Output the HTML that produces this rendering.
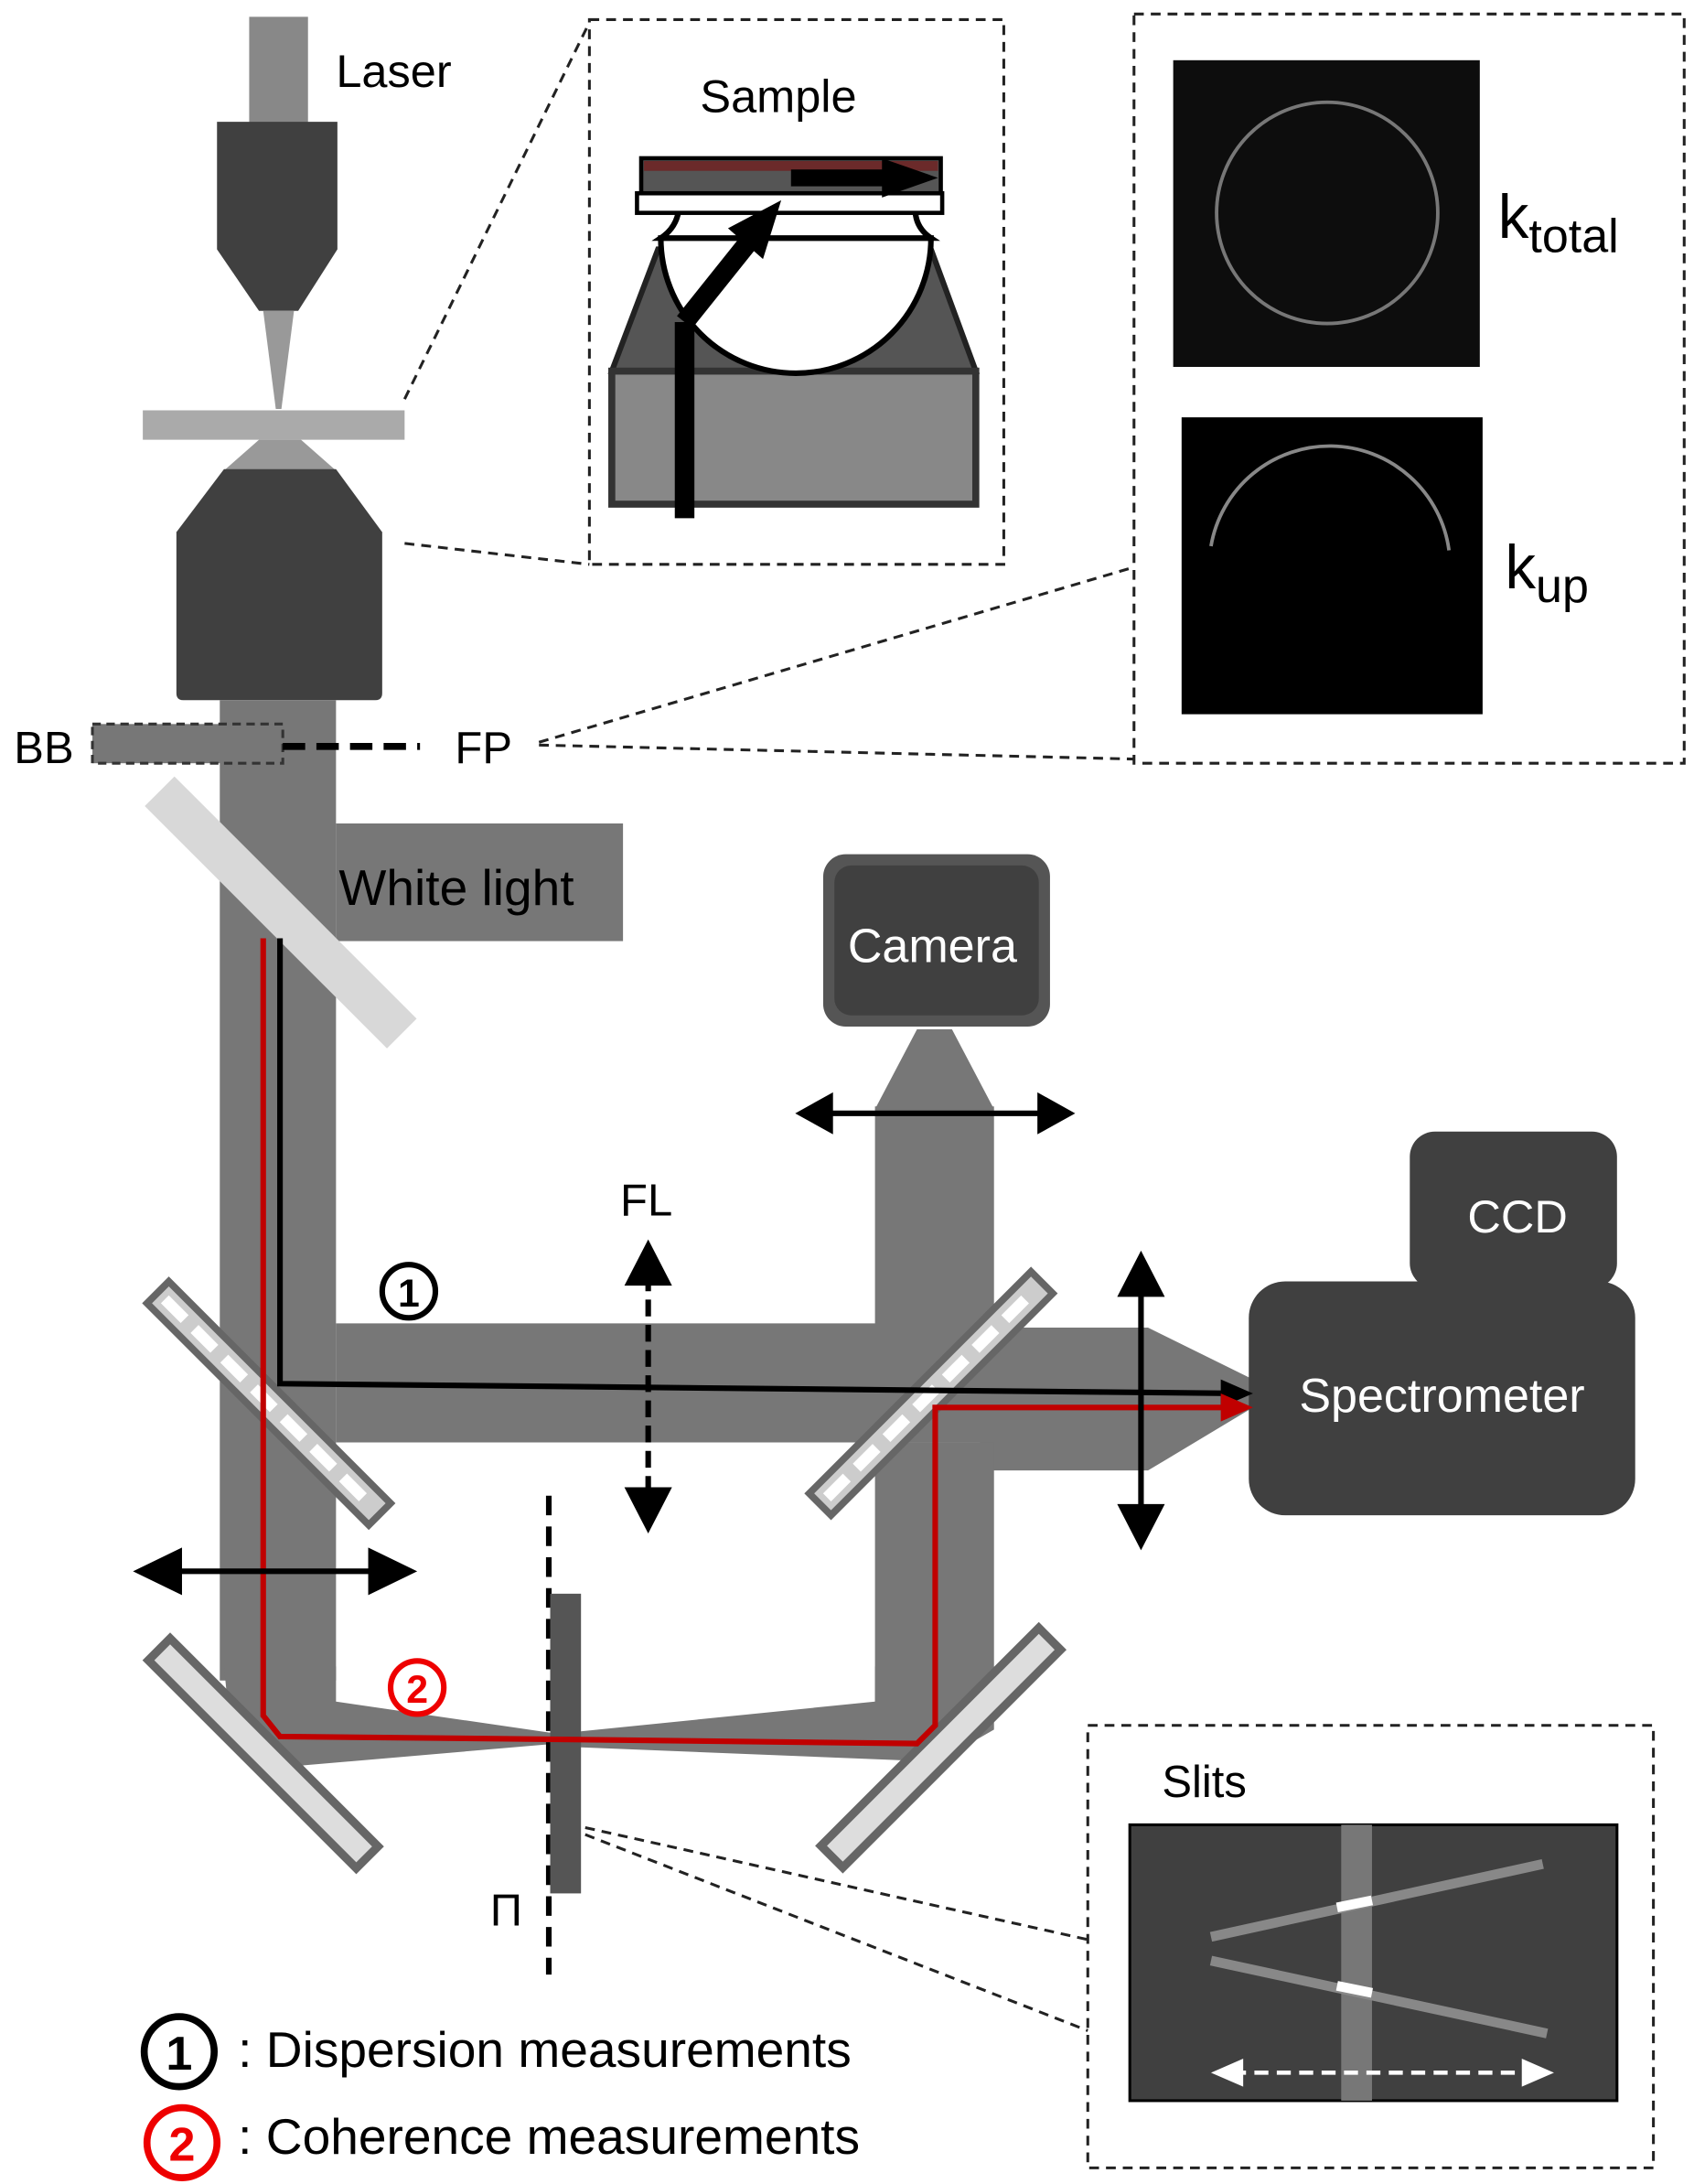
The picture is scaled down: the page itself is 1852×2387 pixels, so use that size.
<!DOCTYPE html>
<html><head><meta charset="utf-8"><style>
html,body{margin:0;padding:0;background:#fff}
svg{display:block}
text{font-family:"Liberation Sans","DejaVu Sans",sans-serif}
</style></head><body>
<svg width="1852" height="2387" viewBox="0 0 1210 1559.5" preserveAspectRatio="none" xmlns="http://www.w3.org/2000/svg">
<rect width="1210" height="1560" fill="#fff"/>

<!-- Laser -->
<rect x="178" y="12" width="42" height="78" fill="#888"/>
<text x="240" y="62" font-size="33">Laser</text>
<path d="M155,87 H241 V178 L213,222 H185 L155,178 Z" fill="#404040"/>
<path d="M188,222 H210 L201,292 H197 Z" fill="#999"/>
<rect x="102" y="293" width="187" height="21" fill="#aaa"/>
<path d="M185,314 H215 L240,336 H160 Z" fill="#999"/>
<path d="M160,335 H240 L273,380 V495 Q273,500 268,500 H131 Q126,500 126,495 V380 Z" fill="#404040"/>

<!-- main beams -->
<rect x="157" y="500" width="83" height="700" fill="#777"/>
<rect x="240" y="588" width="205" height="84" fill="#777"/>
<text x="242" y="646" font-size="36">White light</text>
<path d="M240,945 H625 V790 H710 V1030 H240 Z" fill="#777"/>
<path d="M625,792 H710 L680,735 H655 Z" fill="#777"/>
<path d="M700,948 H820 L895,985 L895,1005 L820,1050 H700 Z" fill="#777"/>
<rect x="625" y="1030" width="85" height="190" fill="#777"/>
<path d="M160,1190 H240 V1215 L398,1238 L398,1245 L200,1262 L165,1240 Z" fill="#777"/>
<path d="M625,1190 H710 V1235 L670,1258 L398,1247 L398,1238 L625,1215 Z" fill="#777"/>

<!-- BB / FP -->
<rect x="66" y="517" width="136" height="28" fill="#777" stroke="#333" stroke-width="2" stroke-dasharray="6,4"/>
<text x="10" y="545" font-size="32">BB</text>
<line x1="202" y1="533" x2="300" y2="533" stroke="#000" stroke-width="5" stroke-dasharray="16,8"/>
<text x="325" y="545" font-size="32">FP</text>

<line x1="114" y1="565" x2="287" y2="738" stroke="#d8d8d8" stroke-width="30"/>

<!-- camera -->
<rect x="588" y="610" width="162" height="123" rx="16" fill="#555"/>
<rect x="596" y="618" width="146" height="107" rx="12" fill="#404040"/>
<text x="666" y="687" font-size="34" fill="#fff" text-anchor="middle">Camera</text>
<line x1="585" y1="795" x2="752" y2="795" stroke="#000" stroke-width="4"/>
<path d="M568,795 L595,780 L595,810 Z M768,795 L741,780 L741,810 Z" fill="#000"/>

<!-- CCD / Spectrometer -->
<rect x="1007" y="808" width="148" height="112" rx="18" fill="#404040"/>
<text x="1084" y="880" font-size="33" fill="#fff" text-anchor="middle">CCD</text>
<rect x="892" y="915" width="276" height="167" rx="26" fill="#404040"/>
<text x="1030" y="1008" font-size="34" fill="#fff" text-anchor="middle">Spectrometer</text>

<g transform="translate(192,1002) rotate(45)">
<rect x="-112" y="-11" width="224" height="22" fill="#ccc" stroke="#666" stroke-width="5"/>
<line x1="-105" y1="0" x2="105" y2="0" stroke="#fff" stroke-width="8" stroke-dasharray="20,10"/>
</g>
<g transform="translate(665,995) rotate(-45)">
<rect x="-112" y="-11" width="224" height="22" fill="#ccc" stroke="#666" stroke-width="5"/>
<line x1="-105" y1="0" x2="105" y2="0" stroke="#fff" stroke-width="8" stroke-dasharray="20,10"/>
</g>

<g transform="translate(188,1252) rotate(45)">
<rect x="-105" y="-11" width="210" height="22" fill="#ddd" stroke="#666" stroke-width="6"/>
</g>
<g transform="translate(672,1248) rotate(-45)">
<rect x="-110" y="-11" width="220" height="22" fill="#ddd" stroke="#666" stroke-width="6"/>
</g>

<line x1="392" y1="1068" x2="392" y2="1410" stroke="#000" stroke-width="4" stroke-dasharray="14,8"/>
<rect x="393" y="1138" width="22" height="214" fill="#555"/>
<text x="350" y="1375" font-size="32" font-family="Liberation Serif,serif">Π</text>

<polyline points="200,670 200,988 885,995" fill="none" stroke="#000" stroke-width="4"/>
<path d="M895,995 L872,985 L872,1005 Z" fill="#000"/>
<polyline points="188,670 188,1225 200,1240 400,1242 655,1245 668,1232 668,1005 885,1005" fill="none" stroke="#c00000" stroke-width="4"/>
<path d="M895,1005 L872,995 L872,1015 Z" fill="#c00000"/>

<text x="443" y="868" font-size="32">FL</text>
<line x1="463" y1="910" x2="463" y2="1070" stroke="#000" stroke-width="4" stroke-dasharray="12,6"/>
<path d="M463,885 L446,918 L480,918 Z M463,1095 L446,1062 L480,1062 Z" fill="#000"/>
<line x1="815" y1="915" x2="815" y2="1085" stroke="#000" stroke-width="4"/>
<path d="M815,893 L798,926 L832,926 Z M815,1107 L798,1074 L832,1074 Z" fill="#000"/>
<line x1="115" y1="1122" x2="280" y2="1122" stroke="#000" stroke-width="4"/>
<path d="M95,1122 L130,1105 L130,1139 Z M298,1122 L263,1105 L263,1139 Z" fill="#000"/>

<circle cx="292" cy="922" r="19" fill="#fff" stroke="#000" stroke-width="4"/>
<text x="292" y="933" font-size="28" text-anchor="middle" font-weight="bold">1</text>
<circle cx="298" cy="1205" r="19" fill="#fff" stroke="#e00" stroke-width="4"/>
<text x="298" y="1216" font-size="28" text-anchor="middle" font-weight="bold" fill="#e00">2</text>

<!-- Sample inset -->
<rect x="421" y="14" width="296" height="389" fill="none" stroke="#222" stroke-width="2" stroke-dasharray="7,5"/>
<line x1="289" y1="285" x2="421" y2="16" stroke="#222" stroke-width="2" stroke-dasharray="7,5"/>
<line x1="289" y1="388" x2="421" y2="403" stroke="#222" stroke-width="2" stroke-dasharray="7,5"/>
<text x="556" y="80" font-size="33" text-anchor="middle">Sample</text>
<path d="M470,178 H665 L697,265 H437 Z" fill="#555" stroke="#222" stroke-width="4"/>
<rect x="437" y="265" width="260" height="95" fill="#888" stroke="#333" stroke-width="5"/>
<path d="M472,170 A95,95 0 0 0 665,170 Z" fill="#fff" stroke="#000" stroke-width="4"/>
<path d="M485,140 H655 Q650,160 665,170 H472 Q487,160 485,140 Z" fill="#fff" stroke="#000" stroke-width="4"/>
<rect x="455" y="138" width="218" height="14" fill="#fff" stroke="#000" stroke-width="3"/>
<rect x="458" y="113" width="214" height="25" fill="#555" stroke="#000" stroke-width="3"/>
<rect x="460" y="115" width="210" height="7" fill="#6b2a2a"/>
<line x1="489" y1="370" x2="489" y2="230" stroke="#000" stroke-width="14"/>
<line x1="489" y1="230" x2="545" y2="160" stroke="#000" stroke-width="14"/>
<path d="M558,143 L520,163 L545,185 Z" fill="#000"/>
<line x1="565" y1="127" x2="645" y2="127" stroke="#000" stroke-width="12"/>
<path d="M670,127 L630,113 L630,141 Z" fill="#000"/>

<!-- k inset -->
<rect x="810" y="10" width="393" height="535" fill="none" stroke="#222" stroke-width="2" stroke-dasharray="7,5"/>
<line x1="385" y1="530" x2="810" y2="405" stroke="#222" stroke-width="2" stroke-dasharray="7,5"/>
<line x1="385" y1="532" x2="810" y2="542" stroke="#222" stroke-width="2" stroke-dasharray="7,5"/>
<rect x="838" y="43" width="219" height="219" fill="#0d0d0d"/>
<circle cx="948" cy="152" r="79" fill="none" stroke="#777" stroke-width="2.5"/>
<rect x="844" y="298" width="215" height="212" fill="#000"/>
<path d="M865,390 A86,86 0 0 1 1035,393" fill="none" stroke="#888" stroke-width="2.5"/>
<text x="1070" y="170" font-size="44">k<tspan font-size="34" dy="10">total</tspan></text>
<text x="1075" y="420" font-size="44">k<tspan font-size="34" dy="10">up</tspan></text>

<!-- Slits inset -->
<rect x="777" y="1232" width="404" height="316" fill="none" stroke="#222" stroke-width="2" stroke-dasharray="7,5"/>
<line x1="418" y1="1305" x2="777" y2="1385" stroke="#222" stroke-width="2" stroke-dasharray="7,5"/>
<line x1="418" y1="1310" x2="777" y2="1450" stroke="#222" stroke-width="2" stroke-dasharray="7,5"/>
<text x="830" y="1283" font-size="32">Slits</text>
<rect x="807" y="1303" width="348" height="197" fill="#404040" stroke="#000" stroke-width="2"/>
<rect x="958" y="1303" width="22" height="197" fill="#777"/>
<line x1="865" y1="1383" x2="1102" y2="1331" stroke="#888" stroke-width="7"/>
<line x1="865" y1="1400" x2="1105" y2="1452" stroke="#888" stroke-width="7"/>
<line x1="955" y1="1362" x2="980" y2="1357" stroke="#fff" stroke-width="7"/>
<line x1="955" y1="1418" x2="980" y2="1423" stroke="#fff" stroke-width="7"/>
<line x1="880" y1="1480" x2="1095" y2="1480" stroke="#fff" stroke-width="3" stroke-dasharray="10,6"/>
<path d="M865,1480 L888,1470 L888,1490 Z M1110,1480 L1087,1470 L1087,1490 Z" fill="#fff"/>

<!-- legend -->
<circle cx="128" cy="1465" r="25" fill="#fff" stroke="#000" stroke-width="5"/>
<text x="128" y="1478" font-size="34" text-anchor="middle" font-weight="bold">1</text>
<text x="170" y="1476" font-size="36">: Dispersion measurements</text>
<circle cx="130" cy="1530" r="25" fill="#fff" stroke="#e00" stroke-width="5"/>
<text x="130" y="1543" font-size="34" text-anchor="middle" font-weight="bold" fill="#e00">2</text>
<text x="170" y="1538" font-size="36">: Coherence measurements</text>
</svg>
</body></html>
